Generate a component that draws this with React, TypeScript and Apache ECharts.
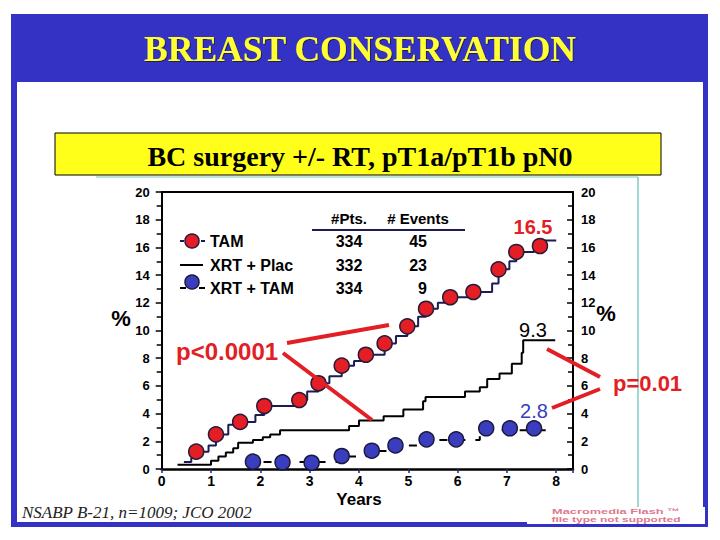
import React, { useEffect, useRef } from "react";
import * as echarts from "echarts";

// ---- data (years, cumulative %) ----
const tamLine: number[][] = [
  [0.45, 0.5], [0.6, 0.8], [0.7, 1.25], [0.95, 1.7], [1.1, 2.5], [1.35, 3.2], [1.59, 3.4],
  [1.9, 3.9], [2.08, 4.55], [2.79, 4.98], [2.95, 5.6], [3.18, 6.19], [3.4, 6.7], [3.65, 7.46],
  [3.9, 7.8], [4.14, 8.25], [4.52, 9.07], [4.75, 9.6], [4.98, 10.3], [5.2, 11.0], [5.36, 11.57],
  [5.6, 12.0], [5.85, 12.4], [6.32, 12.78], [6.7, 13.4], [6.83, 14.42], [7.05, 15.0],
  [7.19, 15.67], [7.55, 16.0], [7.72, 16.5], [8.0, 16.5]
];
const tamPoints: number[][] = [
  [0.7, 1.25], [1.1, 2.5], [1.59, 3.4], [2.08, 4.55], [2.79, 4.98], [3.18, 6.19], [3.65, 7.46],
  [4.14, 8.25], [4.52, 9.07], [4.98, 10.3], [5.36, 11.57], [5.85, 12.4], [6.32, 12.78],
  [6.83, 14.42], [7.19, 15.67], [7.67, 16.1]
];
const xrtPlacLine: number[][] = [
  [0.32, 0.3], [1.0, 0.6], [1.15, 0.9], [1.3, 1.2], [1.45, 1.5], [1.55, 1.9], [1.85, 2.1],
  [2.05, 2.3], [2.2, 2.5], [2.4, 2.8], [3.8, 3.1], [4.0, 3.5], [4.5, 3.8], [4.9, 4.3],
  [5.3, 4.9], [5.35, 5.2], [6.15, 5.6], [6.45, 5.9], [6.6, 6.5], [6.85, 6.9], [7.1, 7.6],
  [7.3, 8.4], [7.33, 9.3], [7.98, 9.3]
];
const xrtTamLine: number[][] = [
  [1.7, 0.5], [3.55, 0.9], [4.15, 1.3], [4.65, 1.7], [5.3, 2.1], [6.45, 2.8], [7.95, 2.8]
];
const xrtTamPoints: number[][] = [
  [1.85, 0.53], [2.45, 0.48], [3.04, 0.45], [3.65, 0.94], [4.26, 1.32], [4.74, 1.7],
  [5.37, 2.14], [5.97, 2.14], [6.58, 2.94], [7.06, 2.94], [7.55, 2.94]
];
const legendNames = ["TAM", "XRT + Plac", "XRT + TAM"];
const ptsCounts = ["334", "332", "334"];
const eventCounts = ["45", "23", "9"];
const tableHeaders = ["#Pts.", "# Events"];
const finalLabels = ["16.5", "9.3", "2.8"];
const pLabels = ["p<0.0001", "p=0.01"];
const titleText = "BREAST CONSERVATION";
const subtitleText = "BC surgery +/- RT, pT1a/pT1b pN0";
const sourceText = "NSABP B-21, n=1009; JCO 2002";
const logoLines = ["Macromedia Flash ™", "file type not supported"];

const SANS = "'Liberation Sans', Arial, sans-serif";
const SERIF = "'Liberation Serif', 'Times New Roman', serif";
const BLUE = "#3432c4";
const RED = "#e31e24";
const DOT_BLUE = "#3b3dbf";

export default function App() {
  const ref = useRef<HTMLDivElement>(null);
  useEffect(() => {
    if (!ref.current) return;
    const chart = echarts.init(ref.current, undefined, { renderer: "svg" });
    const axisLabelStyle = { color: "#000", fontWeight: "bold" as const, fontFamily: SANS };
    const rowY = [241, 265, 288];
    const graphic: any[] = [
      { type: "rect", z: -10, shape: { x: 11, y: 14, width: 697, height: 513 }, style: { fill: BLUE } },
      { type: "rect", z: -9, shape: { x: 17, y: 82, width: 686, height: 440 }, style: { fill: "#fff" } },
      {
        type: "text", z: 10, x: 360, y: 49,
        style: {
          text: titleText, fill: "#ffff33", font: `bold 35.5px ${SERIF}`, textAlign: "center", textVerticalAlign: "middle",
          textShadowColor: "rgba(20,20,60,0.8)", textShadowOffsetX: 1, textShadowOffsetY: 1, textShadowBlur: 1
        }
      },
      { type: "rect", z: 1, shape: { x: 55, y: 133, width: 606, height: 42 }, style: { fill: "#ffff1a", stroke: "#000", lineWidth: 1 } },
      {
        type: "text", z: 10, x: 360, y: 156,
        style: { text: subtitleText, fill: "#000", font: `bold 28px ${SERIF}`, textAlign: "center", textVerticalAlign: "middle" }
      },
      { type: "line", z: 1, shape: { x1: 96, y1: 177, x2: 638, y2: 177 }, style: { stroke: "#a8dcd2", lineWidth: 1.5 } },
      { type: "line", z: 1, shape: { x1: 638, y1: 177, x2: 638, y2: 507 }, style: { stroke: "#40b0a8", lineWidth: 1 } },
      {
        type: "text", z: 10, x: 22, y: 512,
        style: { text: sourceText, fill: "#222", font: `italic 17px ${SERIF}`, textAlign: "left", textVerticalAlign: "middle" }
      },
      { type: "rect", z: 5, shape: { x: 527, y: 507, width: 178, height: 17 }, style: { fill: "#fff" } },
      {
        type: "text", z: 10, x: 616, y: 511, scaleX: 1.6,
        style: { text: logoLines[0], fill: "#e07890", font: `bold 8px ${SANS}`, textAlign: "center", textVerticalAlign: "middle" }
      },
      {
        type: "text", z: 10, x: 616, y: 519, scaleX: 1.5,
        style: { text: logoLines[1], fill: "#e07890", font: `bold 8px ${SANS}`, textAlign: "center", textVerticalAlign: "middle" }
      },
      // axis names
      { type: "text", z: 10, x: 121, y: 318, style: { text: "%", fill: "#000", font: `bold 22px ${SANS}`, textAlign: "center", textVerticalAlign: "middle" } },
      { type: "text", z: 10, x: 606, y: 313, style: { text: "%", fill: "#000", font: `bold 22px ${SANS}`, textAlign: "center", textVerticalAlign: "middle" } },
      { type: "text", z: 10, x: 359, y: 499, style: { text: "Years", fill: "#000", font: `bold 17px ${SANS}`, textAlign: "center", textVerticalAlign: "middle" } },
      // table header
      { type: "text", z: 10, x: 349, y: 218, style: { text: tableHeaders[0], fill: "#000", font: `bold 15px ${SANS}`, textAlign: "center", textVerticalAlign: "middle" } },
      { type: "text", z: 10, x: 418, y: 218, style: { text: tableHeaders[1], fill: "#000", font: `bold 15px ${SANS}`, textAlign: "center", textVerticalAlign: "middle" } },
      { type: "line", z: 10, shape: { x1: 312, y1: 230, x2: 465, y2: 230 }, style: { stroke: "#1b1b55", lineWidth: 2 } },
      // legend symbols
      { type: "line", z: 10, shape: { x1: 180, y1: rowY[0], x2: 205, y2: rowY[0] }, style: { stroke: "#1b1b55", lineWidth: 2, lineDash: [4, 3] } },
      { type: "circle", z: 11, shape: { cx: 192, cy: rowY[0], r: 7 }, style: { fill: RED, stroke: "#2a1a3a", lineWidth: 1.5 } },
      { type: "line", z: 10, shape: { x1: 180, y1: rowY[1], x2: 203, y2: rowY[1] }, style: { stroke: "#000", lineWidth: 2 } },
      { type: "line", z: 10, shape: { x1: 180, y1: rowY[2], x2: 186, y2: rowY[2] }, style: { stroke: "#000", lineWidth: 2 } },
      { type: "line", z: 10, shape: { x1: 199, y1: rowY[2], x2: 205, y2: rowY[2] }, style: { stroke: "#000", lineWidth: 2 } },
      { type: "circle", z: 11, shape: { cx: 192, cy: rowY[2] - 6, r: 7 }, style: { fill: DOT_BLUE, stroke: "#1a1a40", lineWidth: 1.5 } },
      // annotations
      { type: "text", z: 10, x: 533, y: 227, style: { text: finalLabels[0], fill: RED, font: `bold 20px ${SANS}`, textAlign: "center", textVerticalAlign: "middle" } },
      { type: "text", z: 10, x: 533, y: 330, style: { text: finalLabels[1], fill: "#000", font: `20px ${SANS}`, textAlign: "center", textVerticalAlign: "middle" } },
      { type: "text", z: 10, x: 534, y: 411, style: { text: finalLabels[2], fill: "#3a3db8", font: `20px ${SANS}`, textAlign: "center", textVerticalAlign: "middle" } },
      { type: "text", z: 10, x: 176, y: 351, style: { text: pLabels[0], fill: RED, font: `bold 24px ${SANS}`, textAlign: "left", textVerticalAlign: "middle" } },
      { type: "text", z: 10, x: 613, y: 383, style: { text: pLabels[1], fill: RED, font: `bold 22px ${SANS}`, textAlign: "left", textVerticalAlign: "middle" } },
      { type: "line", z: 10, shape: { x1: 287, y1: 343, x2: 389, y2: 325 }, style: { stroke: RED, lineWidth: 4 } },
      { type: "line", z: 10, shape: { x1: 283, y1: 353, x2: 372, y2: 420 }, style: { stroke: RED, lineWidth: 4 } },
      { type: "line", z: 10, shape: { x1: 547, y1: 349, x2: 600, y2: 377 }, style: { stroke: RED, lineWidth: 4 } },
      { type: "line", z: 10, shape: { x1: 552, y1: 408, x2: 600, y2: 389 }, style: { stroke: RED, lineWidth: 4 } }
    ];
    legendNames.forEach((n, i) => {
      graphic.push({ type: "text", z: 10, x: 210, y: rowY[i], style: { text: n, fill: "#000", font: `bold 16px ${SANS}`, textAlign: "left", textVerticalAlign: "middle" } });
      graphic.push({ type: "text", z: 10, x: 349, y: rowY[i], style: { text: ptsCounts[i], fill: "#000", font: `bold 16px ${SANS}`, textAlign: "center", textVerticalAlign: "middle" } });
      graphic.push({ type: "text", z: 10, x: 427, y: rowY[i], style: { text: eventCounts[i], fill: "#000", font: `bold 16px ${SANS}`, textAlign: "right", textVerticalAlign: "middle" } });
    });

    chart.setOption({
      animation: false,
      backgroundColor: "transparent",
      grid: { left: 161.7, right: 147, top: 192, bottom: 71, containLabel: false },
      xAxis: [
        {
          type: "value", min: 0, max: 8.34, interval: 1, position: "bottom",
          axisLine: { show: true, lineStyle: { color: "#000", width: 2.5 } },
          axisTick: { show: true, length: 4, lineStyle: { color: "#1b2a80", width: 1.5 } },
          axisLabel: { ...axisLabelStyle, fontSize: 14, margin: 5, formatter: (v: number) => (Number.isInteger(v) ? String(v) : "") },
          splitLine: { show: false }
        },
        {
          type: "value", min: 0, max: 8.34, position: "top",
          axisLine: { show: true, onZero: false, lineStyle: { color: "#000", width: 2 } },
          axisTick: { show: false }, axisLabel: { show: false }, splitLine: { show: false }
        }
      ],
      yAxis: [
        {
          type: "value", min: 0, max: 20, interval: 2, position: "left",
          axisLine: { show: true, onZero: false, lineStyle: { color: "#000", width: 2 } },
          axisTick: { show: true, length: 6, lineStyle: { color: "#000", width: 1.5 } },
          minorTick: { show: true, splitNumber: 2, length: 5, lineStyle: { color: "#000", width: 1.5 } },
          axisLabel: { ...axisLabelStyle, fontSize: 13, margin: 12 },
          splitLine: { show: false }, minorSplitLine: { show: false }
        },
        {
          type: "value", min: 0, max: 20, interval: 2, position: "right",
          axisLine: { show: true, onZero: false, lineStyle: { color: "#000", width: 2 } },
          axisTick: { show: true, inside: true, length: 6, lineStyle: { color: "#000", width: 1.5 } },
          minorTick: { show: true, splitNumber: 2, length: 5, lineStyle: { color: "#000", width: 1.5 } },
          axisLabel: { ...axisLabelStyle, fontSize: 13, margin: 8 },
          splitLine: { show: false }, minorSplitLine: { show: false }
        }
      ],
      graphic,
      series: [
        {
          name: "XRT + Plac", type: "line", step: "end", data: xrtPlacLine, showSymbol: false, symbol: "none",
          lineStyle: { color: "#000", width: 2 }, z: 3
        },
        {
          name: "XRT + TAM line", type: "line", step: "end", data: xrtTamLine, showSymbol: false, symbol: "none",
          lineStyle: { color: "#000", width: 2, type: [8, 10] }, z: 3
        },
        {
          name: "TAM line", type: "line", step: "end", data: tamLine, showSymbol: false, symbol: "none",
          lineStyle: { color: "#1b1b55", width: 2 }, z: 3
        },
        {
          name: "TAM", type: "scatter", data: tamPoints, symbolSize: 15,
          itemStyle: { color: RED, borderColor: "#2a1a3a", borderWidth: 1.5, opacity: 1 }, z: 5
        },
        {
          name: "XRT + TAM", type: "scatter", data: xrtTamPoints, symbolSize: 15,
          itemStyle: { color: DOT_BLUE, borderColor: "#1a1a40", borderWidth: 1.5, opacity: 1 }, z: 5
        }
      ]
    });
    return () => chart.dispose();
  }, []);
  return (
    <div
      ref={ref}
      style={{ position: "fixed", left: 0, top: 0, width: 720, height: 540, background: "#fff" }}
    />
  );
}
